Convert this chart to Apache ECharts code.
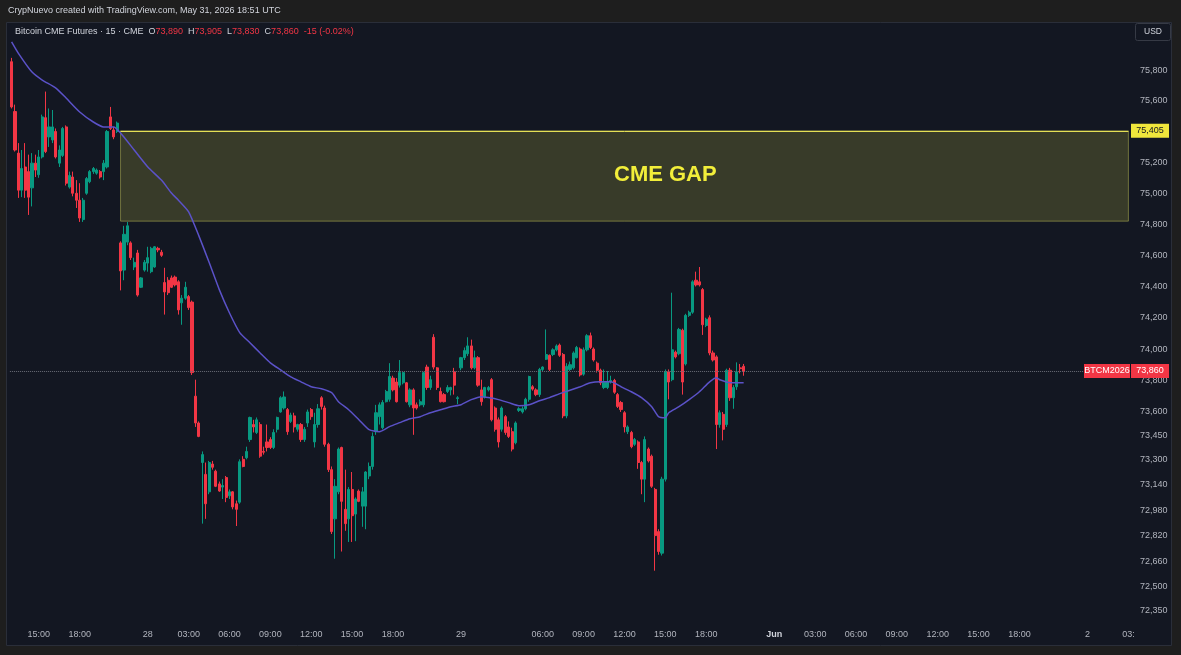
<!DOCTYPE html>
<html>
<head>
<meta charset="utf-8">
<title>Bitcoin CME Futures · 15</title>
<script src="https://cdn.jsdelivr.net/npm/echarts@6/dist/echarts.min.js"></script>
<style>
  html, body { margin: 0; padding: 0; background: #1e1e1e; }
  #main { width: 1181px; height: 655px; }
</style>
</head>
<body>
<div id="main"></div>
<script>
// 15 min bars, 27 May 13:00 -> 29 May 20:45 UTC (daily 21:00-22:00 break skipped)
var opens = [
  75855,75530,75260,75020,75170,75140,75035,75195,75120,75235,
  75490,75365,75345,75400,75195,75245,75430,75040,75105,75000,
  74955,74830,75000,75075,75140,75130,75140,75140,75170,75495,
  75410,75400,74680,74505,74685,74680,74525,74615,74395,74505,
  74550,74495,74525,74645,74620,74425,74440,74455,74460,74430,
  74295,74325,74335,74300,73700,73530,73280,73205,73095,73270,
  73225,73145,73125,73185,73070,73095,73020,73030,73300,73310,
  73425,73520,73470,73520,73350,73410,73425,73375,73490,73600,
  73625,73615,73540,73575,73490,73520,73425,73530,73615,73410,
  73520,73690,73625,73395,73235,72925,73095,73375,72985,72925,
  73110,72955,73100,73005,73005,73195,73255,73475,73570,73500,
  73665,73680,73815,73790,73770,73785,73785,73645,73740,73645,
  73645,73645,73885,73755,74075,73880,73730,73710,73730,73740,
  73855,73685,73880,73945,73970,74020,73880,73945,73740,73695,
  73740,73805,73625,73550,73490,73570,73505,73475,73405,73610,
  73600,73620,73680,73760,73740,73710,73870,73935,73960,73965,
  73995,74025,73965,73575,73870,73880,73945,74000,73840,73995,
  74085,74000,73910,73865,73755,73755,73790,73800,73710,73660,
  73595,73475,73470,73395,73410,73280,73175,73365,73320,73110,
  72845,72710,73175,73855,73805,73980,73970,74120,73905,74215,
  74235,74440,74430,74380,74150,74200,73975,73950,73520,73585,
  73520,73865,73690,73760,73880,73890
];
var closes = [
  75560,75280,75020,75160,75020,74975,75195,75150,75235,75495,
  75270,75430,75430,75235,75280,75420,75065,75115,75000,74955,
  74840,74955,75095,75140,75160,75150,75105,75195,75400,75420,
  75365,75455,74500,74735,74790,74585,74555,74345,74455,74555,
  74585,74645,74655,74635,74600,74365,74360,74395,74410,74250,
  74325,74395,74265,73850,73530,73445,73330,73020,73280,73250,
  73130,73100,73135,73060,73095,73000,72985,73285,73255,73350,
  73565,73505,73550,73320,73345,73375,73375,73470,73565,73690,
  73695,73475,73580,73505,73520,73425,73490,73600,73570,73520,
  73620,73635,73395,73235,72845,73130,73365,73035,72895,73110,
  72945,73050,73035,73095,73220,73255,73445,73595,73645,73660,
  73730,73825,73740,73665,73850,73850,73665,73740,73625,73625,
  73665,73850,73755,73805,73885,73755,73665,73665,73755,73755,
  73770,73690,73945,73990,74020,73880,73945,73770,73665,73755,
  73755,73550,73490,73410,73625,73470,73445,73365,73530,73620,
  73620,73680,73825,73745,73710,73870,73885,73965,73870,73995,
  74020,73960,73575,73890,73900,73975,74010,73835,73995,74085,
  74010,73930,73865,73785,73790,73790,73800,73725,73635,73615,
  73505,73505,73380,73425,73280,73175,73425,73290,73130,72820,
  72720,73175,73855,73790,73995,73950,74125,73790,74215,74235,
  74430,74410,74410,74155,74190,73975,73930,73520,73595,73490,
  73865,73690,73755,73855,73875,73860
];
var lows = [
  75550,75270,74970,74975,74970,74860,74915,75105,75100,75225,
  75260,75300,75325,75225,75170,75235,75050,75030,74980,74905,
  74815,74815,74990,75065,75125,75120,75095,75085,75160,75410,
  75350,75390,74375,74440,74665,74570,74505,74335,74390,74495,
  74495,74485,74520,74620,74590,74220,74345,74390,74400,74220,
  74155,74315,74250,73835,73505,73440,72895,72925,73080,73235,
  73125,73095,73050,73030,73050,72985,72880,73020,73250,73300,
  73410,73470,73460,73310,73330,73350,73365,73365,73470,73595,
  73615,73455,73530,73470,73475,73410,73410,73505,73550,73375,
  73500,73615,73380,73220,72830,72675,73080,72720,72850,72780,
  72780,72785,73030,72875,72860,73175,73235,73455,73520,73490,
  73660,73665,73730,73660,73755,73775,73660,73630,73455,73615,
  73635,73630,73740,73740,73870,73740,73660,73660,73720,73705,
  73710,73650,73865,73930,73955,73870,73870,73760,73640,73685,
  73730,73540,73475,73375,73475,73455,73435,73350,73395,73600,
  73590,73610,73665,73735,73700,73695,73860,73930,73860,73955,
  73985,73950,73560,73560,73860,73870,73940,73825,73830,73985,
  74000,73920,73850,73770,73745,73745,73780,73715,73625,73600,
  73470,73460,73370,73385,73240,73080,73030,73280,73120,72600,
  72700,72695,73160,73680,73795,73940,73960,73710,73895,74205,
  74225,74400,74400,74090,74140,73960,73920,73365,73500,73420,
  73505,73670,73620,73740,73845,73830
];
var highs = [
  75880,75575,75325,75280,75325,75250,75260,75250,75280,75510,
  75660,75550,75540,75420,75310,75430,75440,75140,75140,75085,
  75065,74970,75105,75150,75170,75160,75150,75215,75410,75560,
  75430,75465,74690,74790,74815,74690,74585,74635,74460,74570,
  74655,74655,74660,74655,74635,74520,74460,74470,74470,74440,
  74345,74430,74345,74310,73805,73540,73350,73280,73290,73290,
  73235,73160,73175,73195,73110,73100,73040,73300,73320,73380,
  73570,73550,73565,73535,73380,73520,73440,73490,73570,73700,
  73730,73625,73595,73595,73525,73530,73505,73615,73625,73595,
  73650,73700,73640,73405,73255,73175,73375,73380,73235,73125,
  73220,73060,73110,73125,73225,73280,73470,73645,73660,73675,
  73740,73910,73830,73815,73930,73855,73790,73750,73750,73660,
  73680,73855,73900,73830,74095,73885,73755,73720,73770,73760,
  73880,73700,73950,74010,74075,74060,73990,73955,73805,73760,
  73765,73815,73635,73565,73635,73580,73540,73500,73540,73630,
  73635,73690,73830,73770,73750,73880,73890,74125,73965,74005,
  74030,74035,73975,73910,73920,73985,74020,74010,74010,74095,
  74105,74010,73920,73875,73870,73860,73830,73810,73720,73670,
  73605,73515,73480,73435,73420,73290,73445,73375,73330,73120,
  72860,73190,73870,73870,74360,73990,74135,74130,74225,74245,
  74440,74495,74525,74390,74200,74215,73990,73960,73610,73600,
  73875,73880,73770,73915,73905,73905
];

// purple moving average: [bar index, price]
var maPoints = [
  [0,75985],[2,75910],[6,75787],[9,75735],[13,75683],[16,75618],[20,75527],[24,75462],
  [27,75430],[30,75430],[32,75390],[36,75280],[40,75170],[44,75085],[47,75000],[49,74955],
  [52,74880],[55,74725],[58,74555],[61,74380],[64,74230],[67,74105],[70,74040],[73,73975],
  [76,73912],[79,73867],[82,73823],[85,73791],[88,73760],[91,73747],[94,73722],[96,73665],
  [99,73614],[102,73551],[105,73488],[108,73475],[111,73507],[114,73532],[117,73557],[120,73570],
  [123,73595],[126,73614],[129,73633],[132,73646],[135,73678],[138,73697],[140,73691],[143,73678],
  [146,73659],[149,73640],[152,73646],[155,73671],[158,73691],[161,73716],[167,73760],[170,73785],
  [173,73791],[176,73791],[179,73760],[182,73728],[185,73691],[188,73633],[190,73570],[192,73563],
  [193,73595],[196,73633],[199,73678],[202,73728],[205,73791],[207,73817],[208,73804],[211,73785],
  [215,73785]
];

var priceTicks = [75800,75600,75400,75200,75000,74800,74600,74400,74200,74000,
                  73800,73600,73450,73300,73140,72980,72820,72660,72500,72350];

var timeLabelText = ['15:00','18:00','28','03:00','06:00','09:00','12:00','15:00','18:00','29',
                     '06:00','09:00','12:00','15:00','18:00','Jun','03:00','06:00','09:00','12:00',
                     '15:00','18:00','2','03:'];
var timeLabelBars = [8,20,40,52,64,76,88,100,112,132,
                     156,168,180,192,204,224,236,248,260,272,
                     284,296,316,328];

var slotCount = 329;      // trading bars plus the empty future session
var gapTop = 75405;
var gapBottom = 74820;
var gapStartBar = 32;
var gapLabelBar = 192;
var gapLabelPrice = 75120;

var chart = echarts.init(document.getElementById('main'));

var slots = [];
for (var i = 0; i < slotCount; i++) slots.push(String(i));
var candles = opens.map(function (o, i) { return [o, closes[i], lows[i], highs[i]]; });
var labelAt = {};
timeLabelBars.forEach(function (b, k) { labelAt[b] = timeLabelText[k]; });

function fmt(v) { return Math.round(v).toLocaleString('en-US'); }

var FONT = 'Liberation Sans, Arial, sans-serif';
var last = opens.length - 1;
var lastClose = closes[last];

var option = {
  backgroundColor: '#131722',
  animation: false,
  textStyle: { fontFamily: FONT },
  grid: { left: 9.9, top: 22, width: 1120.2, height: 599 },
  xAxis: {
    type: 'category',
    data: slots,
    axisLine: { show: false },
    axisTick: { show: false },
    splitLine: { show: false },
    axisLabel: {
      interval: function (i) { return labelAt[i] !== undefined; },
      formatter: function (v) {
        var t = labelAt[v];
        return t === 'Jun' ? '{b|Jun}' : t;
      },
      rich: { b: { fontWeight: 'bold', color: '#d1d4dc', fontSize: 9, fontFamily: FONT } },
      color: '#b2b5be',
      fontSize: 9,
      margin: 9
    }
  },
  yAxis: {
    type: 'log',
    logBase: 10,
    position: 'right',
    min: 72286,
    max: 76115,
    axisLine: { show: false },
    axisTick: { show: false },
    splitLine: { show: false },
    axisLabel: {
      customValues: priceTicks,
      formatter: fmt,
      color: '#b2b5be',
      fontSize: 9,
      align: 'left',
      margin: 10
    }
  },
  series: [
    {
      type: 'candlestick',
      data: candles,
      barWidth: '78%',
      itemStyle: {
        color: '#089981', color0: '#f23645',
        borderColor: '#089981', borderColor0: '#f23645', borderWidth: 1
      },
      markArea: {
        silent: true,
        itemStyle: { color: 'rgba(205,205,70,0.2)', borderColor: 'rgba(205,205,90,0.45)', borderWidth: 1 },
        data: [[{ xAxis: gapStartBar, yAxis: gapTop }, { xAxis: slotCount - 1, yAxis: gapBottom }]]
      },
      markLine: {
        silent: true,
        symbol: ['none', 'none'],
        label: { show: false },
        data: [
          { yAxis: lastClose, lineStyle: { type: 'dotted', color: '#6a6d78', width: 1 } },
          [
            { coord: [gapStartBar, gapTop], lineStyle: { type: 'solid', color: '#e4df55', width: 1 } },
            { coord: [slotCount - 1, gapTop] }
          ]
        ]
      },
      markPoint: {
        silent: true,
        symbol: 'circle',
        symbolSize: 1,
        itemStyle: { color: 'transparent' },
        label: { show: true, formatter: 'CME GAP', color: '#f2ee3a', fontSize: 22, fontWeight: 'bold', fontFamily: FONT },
        data: [{ coord: [gapLabelBar, gapLabelPrice] }]
      }
    },
    {
      type: 'line',
      data: maPoints,
      smooth: 0.2,
      showSymbol: false,
      silent: true,
      z: 3,
      lineStyle: { color: '#5b52c8', width: 1.5 }
    }
  ]
};

chart.setOption(option);

var yLast = chart.convertToPixel({ yAxisIndex: 0 }, lastClose);
var yGap = chart.convertToPixel({ yAxisIndex: 0 }, gapTop);
var change = lastClose - closes[last - 1];
var pct = (change / closes[last - 1] * 100).toFixed(2);
var frame = '#1e1e1e';

function tag(x, y, w, bg, fg, text) {
  return [
    { type: 'rect', z: 50, shape: { x: x, y: y - 7, width: w, height: 14 }, style: { fill: bg } },
    { type: 'text', z: 51, x: x + w / 2, y: y, style: { text: text, fill: fg, font: '9px ' + FONT, align: 'center', verticalAlign: 'middle' } }
  ];
}

var g = [
  { type: 'rect', z: 40, shape: { x: 0, y: 0, width: 1181, height: 22 }, style: { fill: frame } },
  { type: 'rect', z: 40, shape: { x: 0, y: 0, width: 6, height: 655 }, style: { fill: frame } },
  { type: 'rect', z: 40, shape: { x: 1172, y: 0, width: 9, height: 655 }, style: { fill: frame } },
  { type: 'rect', z: 40, shape: { x: 0, y: 646, width: 1181, height: 9 }, style: { fill: frame } },
  { type: 'rect', z: 41, shape: { x: 6.5, y: 22.5, width: 1165, height: 623 }, style: { fill: 'none', stroke: '#2a2e39', lineWidth: 1 } },
  { type: 'text', z: 42, x: 8, y: 11, style: { text: 'CrypNuevo created with TradingView.com, May 31, 2026 18:51 UTC', fill: '#d1d4dc', font: '9px ' + FONT, verticalAlign: 'middle' } },
  {
    type: 'text', z: 42, x: 15, y: 32,
    style: {
      text: '{t|Bitcoin CME Futures · 15 · CME}  {k|O}{v|' + fmt(opens[last]) + '}  {k|H}{v|' + fmt(highs[last]) +
            '}  {k|L}{v|' + fmt(lows[last]) + '}  {k|C}{v|' + fmt(lastClose) + '}  {v|' + change + ' (' + pct + '%)}',
      verticalAlign: 'middle',
      font: '9px ' + FONT,
      rich: {
        t: { fill: '#d1d4dc', fontSize: 9, fontFamily: FONT },
        k: { fill: '#d1d4dc', fontSize: 9, fontFamily: FONT },
        v: { fill: '#f23645', fontSize: 9, fontFamily: FONT }
      }
    }
  },
  { type: 'rect', z: 42, shape: { x: 1135.5, y: 23.5, width: 35, height: 17, r: 2 }, style: { fill: '#131722', stroke: '#363a45', lineWidth: 1 } },
  { type: 'text', z: 43, x: 1153, y: 32, style: { text: 'USD', fill: '#d1d4dc', font: '8.5px ' + FONT, align: 'center', verticalAlign: 'middle' } }
];
g = g.concat(tag(1131, yGap, 38, '#f0e63c', '#131722', fmt(gapTop)));
g = g.concat(tag(1084, yLast, 46, '#f23645', '#ffffff', 'BTCM2026'));
g = g.concat(tag(1131, yLast, 38, '#f23645', '#ffffff', fmt(lastClose)));

chart.setOption({ graphic: g });
</script>
</body>
</html>
